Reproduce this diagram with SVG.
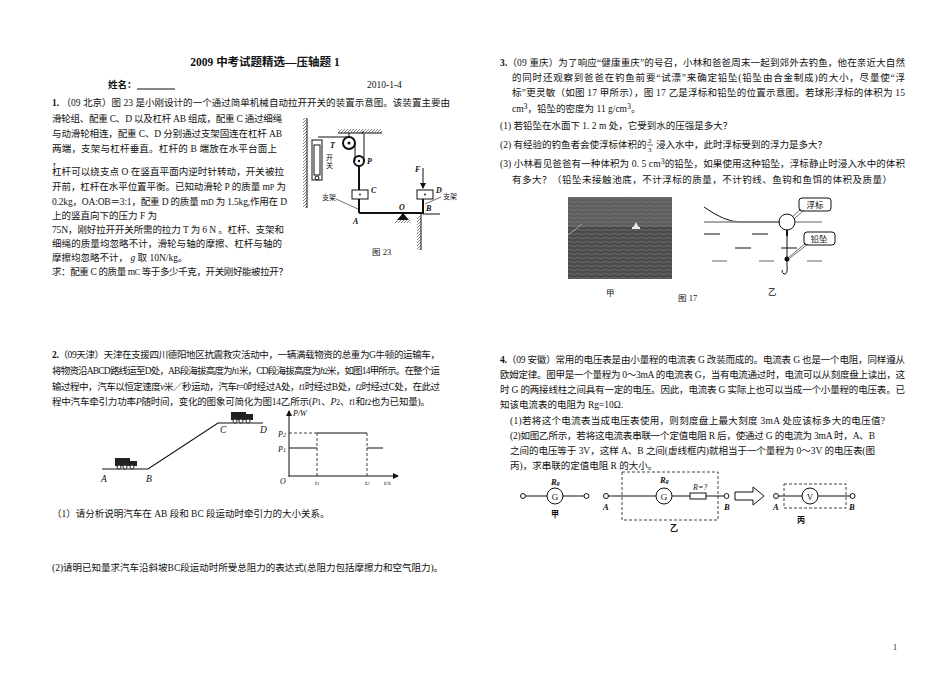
<svg xmlns="http://www.w3.org/2000/svg" width="950" height="694" viewBox="0 0 950 694">
<defs>
<style>
text{font-family:"Liberation Serif","Noto Sans CJK SC",serif;font-size:9.5px;fill:#111}
.b{font-weight:bold}
.i{font-style:italic}
.s{font-size:8px}
.ln{stroke:#111;stroke-width:1;fill:none}
.tk{stroke:#111;stroke-width:2;fill:none}
.ds{stroke:#111;stroke-width:0.8;stroke-dasharray:3 2;fill:none}
.gr{stroke:#888;stroke-width:1.3;fill:none}
</style>
<pattern id="h" width="3" height="3" patternUnits="userSpaceOnUse"><path d="M0,3 L3,0" stroke="#333" stroke-width="0.6"/></pattern>
<pattern id="water" width="9" height="4" patternUnits="userSpaceOnUse"><rect width="9" height="4" fill="#4a4a4a"/><path d="M0,2 Q2,1 4.5,2 T9,2" stroke="#7a7a7a" stroke-width="0.7" fill="none"/></pattern>
<marker id="ar" markerWidth="6" markerHeight="6" refX="5" refY="3" orient="auto"><path d="M0,0 L6,3 L0,6 z" fill="#111"/></marker>
</defs>
<rect width="950" height="694" fill="#fff"/>

<g id="header">
<text x="265" y="66" text-anchor="middle" class="b" style="font-size:11.5px">2009 中考试题精选—压轴题 1</text>
<text x="108" y="88" class="b">姓名：</text><line x1="137" y1="89" x2="175" y2="89" class="ln"/>
<text x="367" y="88">2010-1-4</text>
</g>

<g id="q1-text">
<text x="52" y="106" textLength="398"><tspan class="b">1.</tspan> （09 北京）图 23 是小刚设计的一个通过简单机械自动拉开开关的装置示意图。该装置主要由</text>
<text x="52" y="122" textLength="230">滑轮组、配重 C、D 以及杠杆 AB 组成，配重 C 通过细绳</text>
<text x="52" y="137" textLength="230">与动滑轮相连，配重 C、D 分别通过支架固连在杠杆 AB</text>
<text x="52" y="152" textLength="225">两端，支架与杠杆垂直。杠杆的 B 端放在水平台面上</text>
<text x="52" y="165">，</text>
<text x="52" y="175" textLength="232">杠杆可以绕支点 O 在竖直平面内逆时针转动，开关被拉</text>
<text x="52" y="190" textLength="234">开前，杠杆在水平位置平衡。已知动滑轮 P 的质量 m<tspan class="s">P</tspan> 为</text>
<text x="52" y="205" textLength="235">0.2kg，OA:OB＝3:1，配重 D 的质量 m<tspan class="s">D</tspan> 为 1.5kg,作用在 D</text>
<text x="52" y="219">上的竖直向下的压力 F 为</text>
<text x="52" y="233" textLength="232">75N，刚好拉开开关所需的拉力 T 为 6 N 。杠杆、支架和</text>
<text x="52" y="247" textLength="230">细绳的质量均忽略不计，滑轮与轴的摩擦、杠杆与轴的</text>
<text x="52" y="261">摩擦均忽略不计， <tspan class="i">g</tspan> 取 10N/kg。</text>
<text x="52" y="275" textLength="236">求：配重 C 的质量 m<tspan class="s">C</tspan> 等于多少千克，开关刚好能被拉开？</text>
</g>

<g id="fig23">
<line x1="307" y1="118" x2="307" y2="208" class="ln"/>
<rect x="303" y="118" width="4" height="90" fill="url(#h)"/>
<rect x="312" y="140" width="10" height="40" class="ln"/>
<rect x="314" y="145" width="6" height="30" class="ln"/>
<circle cx="317" cy="178" r="2" class="ln"/>
<text x="326" y="160" style="font-size:7px">开</text><text x="326" y="168" style="font-size:7px">关</text>
<line x1="338" y1="133" x2="382" y2="133" class="ln"/>
<rect x="338" y="129" width="44" height="4" fill="url(#h)"/>
<line x1="349" y1="133" x2="349" y2="137" class="ln"/>
<circle cx="349" cy="143" r="6" class="tk"/><circle cx="349" cy="143" r="1.5" fill="#111"/>
<line x1="318" y1="137" x2="349" y2="137" class="ln"/>
<text x="330" y="148" class="i b" style="font-size:8px">T</text>
<line x1="355" y1="143" x2="355" y2="161" class="ln"/>
<line x1="364" y1="134" x2="364" y2="161" class="ln"/>
<path d="M362,134 q0,-3 2,-2" class="ln"/>
<circle cx="359" cy="161" r="5" class="tk"/><circle cx="359" cy="161" r="1.2" fill="#111"/>
<text x="367" y="164" class="i b" style="font-size:8px">P</text>
<line x1="359" y1="166" x2="359" y2="190" class="tk"/>
<rect x="352" y="190" width="16" height="9" fill="#fff" class="ln"/><circle cx="360" cy="194.5" r="0.9" fill="#111"/>
<text x="371" y="193" class="i b" style="font-size:8px">C</text>
<line x1="359" y1="199" x2="359" y2="213" class="tk"/>
<line x1="359" y1="213" x2="424" y2="213" class="tk"/>
<rect x="417" y="190" width="16" height="9" fill="#fff" class="ln"/><circle cx="425" cy="194.5" r="0.9" fill="#111"/>
<text x="436" y="193" class="i b" style="font-size:8px">D</text>
<line x1="423" y1="199" x2="423" y2="213" class="tk"/>
<line x1="423" y1="168" x2="423" y2="188" class="ln" marker-end="url(#ar)"/>
<text x="415" y="172" class="i b" style="font-size:8px">F</text>
<path d="M397,220 L403,213 L409,220 Z" fill="#111"/>
<rect x="395" y="220" width="16" height="3" fill="url(#h)"/>
<text x="399" y="210" class="i b" style="font-size:8px">O</text>
<line x1="423" y1="214" x2="440" y2="214" class="ln"/>
<line x1="421" y1="214" x2="421" y2="250" class="ln"/>
<rect x="417" y="216" width="4" height="34" fill="url(#h)"/>
<text x="353" y="224" class="i b" style="font-size:8px">A</text>
<text x="426" y="211" class="i b" style="font-size:8px">B</text>
<text x="322" y="200" style="font-size:7px">支架</text>
<line x1="336" y1="199" x2="358" y2="209" class="ln" style="stroke-width:0.6"/>
<text x="443" y="199" style="font-size:7px">支架</text>
<line x1="441" y1="197" x2="425" y2="204" class="ln" style="stroke-width:0.6"/>
<text x="372" y="255" style="font-size:8.5px">图 23</text>
</g>

<g id="q2-text">
<text x="52" y="358" textLength="388"><tspan class="b">2.</tspan>（09天津）天津在支援四川德阳地区抗震救灾活动中，一辆满载物资的总重为G牛顿的运输车，</text>
<text x="52" y="374" textLength="388">将物资沿ABCD路线运至D处，AB段海拔高度为<tspan class="i">h</tspan><tspan class="s">1</tspan>米，CD段海拔高度为<tspan class="i">h</tspan><tspan class="s">2</tspan>米，如图14甲所示。在整个运</text>
<text x="52" y="390" textLength="388">输过程中，汽车以恒定速度<tspan class="i">v</tspan>米／秒运动，汽车<tspan class="i">t</tspan>=0时经过A处，<tspan class="i">t</tspan><tspan class="s">1</tspan>时经过B处，<tspan class="i">t</tspan><tspan class="s">2</tspan>时经过C处，在此过</text>
<text x="52" y="405" textLength="378">程中汽车牵引力功率<tspan class="i">P</tspan>随时间，变化的图象可简化为图14乙所示(<tspan class="i">P</tspan><tspan class="s">1</tspan>、<tspan class="i">P</tspan><tspan class="s">2</tspan>、<tspan class="i">t</tspan><tspan class="s">1</tspan>和<tspan class="i">t</tspan><tspan class="s">2</tspan>也为已知量)。</text>
<text x="52" y="517">（1）请分析说明汽车在 AB 段和 BC 段运动时牵引力的大小关系。</text>
<text x="52" y="571">(2)请明已知量求汽车沿斜坡BC段运动时所受总阻力的表达式(总阻力包括摩擦力和空气阻力)。</text>
</g>

<g id="fig14">
<polyline points="102,469 148,469 218,423 263,423" class="ln" style="stroke-width:1.2"/>
<g><rect x="115" y="458" width="15" height="8" fill="#222"/><rect x="130" y="461" width="7" height="5" fill="#222"/><circle cx="119" cy="467" r="2" fill="#fff" stroke="#222"/><circle cx="125" cy="467" r="2" fill="#fff" stroke="#222"/><circle cx="132" cy="467" r="2" fill="#fff" stroke="#222"/></g>
<g><rect x="231" y="412" width="15" height="8" fill="#222"/><rect x="246" y="414" width="7" height="6" fill="#222"/><circle cx="235" cy="421" r="2" fill="#fff" stroke="#222"/><circle cx="241" cy="421" r="2" fill="#fff" stroke="#222"/><circle cx="248" cy="421" r="2" fill="#fff" stroke="#222"/></g>
<text x="101" y="482" class="i">A</text><text x="146" y="482" class="i">B</text><text x="220" y="433" class="i">C</text><text x="260" y="433" class="i">D</text>
<line x1="289" y1="477" x2="289" y2="411" class="ln" marker-end="url(#ar)"/>
<line x1="289" y1="476" x2="398" y2="476" class="ln" marker-end="url(#ar)"/>
<text x="293" y="416" class="i" style="font-size:8px">P/W</text>
<line x1="289" y1="433" x2="317" y2="433" class="ds"/>
<line x1="289" y1="448" x2="317" y2="448" class="ln"/>
<line x1="317" y1="433" x2="317" y2="476" class="ds"/>
<line x1="317" y1="433" x2="367" y2="433" class="ln"/>
<line x1="367" y1="433" x2="367" y2="476" class="ds"/>
<line x1="367" y1="448" x2="383" y2="448" class="ln"/>
<text x="278" y="437" class="i" style="font-size:8px">P<tspan style="font-size:6px">2</tspan></text>
<text x="278" y="452" class="i" style="font-size:8px">P<tspan style="font-size:6px">1</tspan></text>
<text x="280" y="484" class="i" style="font-size:8px">O</text>
<text x="315" y="485" class="i" style="font-size:7px">t<tspan style="font-size:5px">1</tspan></text>
<text x="365" y="485" class="i" style="font-size:7px">t<tspan style="font-size:5px">2</tspan></text>
<text x="384" y="485" class="i" style="font-size:7px">t/s</text>
</g>

<g id="q3-text">
<text x="500" y="66" textLength="405"><tspan class="b">3.</tspan>（09 重庆）为了响应“健康重庆”的号召，小林和爸爸周末一起到郊外去钓鱼，他在亲近大自然</text>
<text x="512" y="81" textLength="393">的同时还观察到爸爸在钓鱼前要“试漂”来确定铅坠(铅坠由合金制成)的大小，尽量使“浮</text>
<text x="512" y="96" textLength="393">标”更灵敏（如图 17 甲所示），图 17 乙是浮标和铅坠的位置示意图。若球形浮标的体积为 15</text>
<text x="512" y="112">cm<tspan class="s" dy="-3">3</tspan><tspan dy="3">，铅坠的密度为 11 g/cm</tspan><tspan class="s" dy="-3">3</tspan><tspan dy="3">。</tspan></text>
<text x="500" y="129">(1) 若铅坠在水面下 1. 2 m 处，它受到水的压强是多大？</text>
<text x="500" y="148">(2) 有经验的钓鱼者会使浮标体积的</text>
<text x="648" y="143" style="font-size:7px">2</text><line x1="647" y1="145" x2="653" y2="145" class="ln" style="stroke-width:0.6"/><text x="648" y="152" style="font-size:7px">3</text>
<text x="656" y="148">浸入水中，此时浮标受到的浮力是多大？</text>
<text x="500" y="167" textLength="405">(3) 小林看见爸爸有一种体积为 0. 5 cm<tspan class="s" dy="-3">3</tspan><tspan dy="3">的铅坠，如果使用这种铅坠，浮标静止时浸入水中的体积</tspan></text>
<text x="512" y="183" textLength="380">有多大？（铅坠未接触池底，不计浮标的质量，不计钓线、鱼钩和鱼饵的体积及质量）</text>
</g>

<g id="fig17">
<rect x="568" y="197" width="104" height="82" fill="url(#water)"/>
<rect x="568" y="197" width="104" height="30" fill="#777" opacity="0.45"/>
<line x1="568" y1="235" x2="582" y2="224" stroke="#ccc" stroke-width="0.7"/>
<path d="M633,228 L636,222 L639,228 Z" fill="#eee"/>
<rect x="632" y="227" width="8" height="2" fill="#eee"/>
<path d="M704,207 Q725,222 740,222 L780,222" class="ln"/>
<line x1="704" y1="222" x2="779" y2="222" class="gr"/>
<line x1="795" y1="222" x2="822" y2="222" class="gr"/>
<circle cx="787" cy="222" r="8" fill="#fff" class="ln"/>
<line x1="787" y1="230" x2="787" y2="236" class="tk"/>
<line x1="787" y1="236" x2="787" y2="265" class="ln"/>
<path d="M787,265 Q788,275 784,274 Q782,273 782,270" class="ln"/>
<circle cx="787" cy="259" r="2.5" fill="#111"/>
<line x1="704" y1="234" x2="720" y2="234" class="ln"/><line x1="752" y1="234" x2="768" y2="234" class="ln"/>
<line x1="735" y1="248" x2="751" y2="248" class="ln"/><line x1="781" y1="248" x2="797" y2="248" class="ln"/>
<line x1="712" y1="261" x2="727" y2="261" class="gr"/><line x1="759" y1="261" x2="774" y2="261" class="gr"/><line x1="807" y1="261" x2="822" y2="261" class="gr"/>
<rect x="799" y="198" width="32" height="13" rx="3" fill="#fff" class="ln"/>
<text x="815" y="208" text-anchor="middle" style="font-size:8.5px">浮标</text>
<path d="M801,209 L792,217 M804,210 L794,219" class="ln" style="stroke-width:0.6"/>
<rect x="804" y="232" width="31" height="13" rx="3" fill="#fff" class="ln"/>
<text x="819" y="242" text-anchor="middle" style="font-size:8.5px">铅坠</text>
<path d="M806,243 L789,257 M808,244 L790,258" class="ln" style="stroke-width:0.6"/>
<text x="606" y="296" style="font-size:8.5px">甲</text>
<text x="678" y="301" style="font-size:8.5px">图 17</text>
<text x="768" y="295" style="font-size:8.5px">乙</text>
</g>

<g id="q4-text">
<text x="500" y="363" textLength="405"><tspan class="b">4.</tspan>（09 安徽）常用的电压表是由小量程的电流表 G 改装而成的。电流表 G 也是一个电阻，同样遵从</text>
<text x="500" y="378" textLength="405">欧姆定律。图甲是一个量程为 0～3mA 的电流表 G，当有电流通过时，电流可以从刻度盘上读出，这</text>
<text x="500" y="393" textLength="405">时 G 的两接线柱之间具有一定的电压。因此，电流表 G 实际上也可以当成一个小量程的电压表。已</text>
<text x="500" y="408">知该电流表的电阻为 Rg=10Ω.</text>
<text x="510" y="424" textLength="375">(1)若将这个电流表当成电压表使用，则刻度盘上最大刻度 3mA 处应该标多大的电压值?</text>
<text x="510" y="439" textLength="365">(2)如图乙所示，若将这电流表串联一个定值电阻 R 后，使通过 G 的电流为 3mA 时，A、B</text>
<text x="510" y="454" textLength="365">之间的电压等于 3V，这样 A、B 之间(虚线框内)就相当于一个量程为 0～3V 的电压表(图</text>
<text x="510" y="469">丙)，求串联的定值电阻 R 的大小。</text>
</g>

<g id="circuits">
<circle cx="523" cy="496" r="2.5" fill="#fff" class="ln"/><line x1="525.5" y1="496" x2="547" y2="496" class="ln"/>
<circle cx="555" cy="496" r="8" fill="#fff" class="ln"/><text x="555" y="499.5" text-anchor="middle" style="font-size:9px">G</text>
<line x1="563" y1="496" x2="584" y2="496" class="ln"/><circle cx="586.5" cy="496" r="2.5" fill="#fff" class="ln"/>
<text x="551" y="485" class="i b" style="font-size:8.5px">R<tspan style="font-size:6px">g</tspan></text>
<text x="551" y="517" class="b" style="font-size:8px">甲</text>
<rect x="622" y="472" width="96" height="48" class="ds"/>
<circle cx="606" cy="496" r="2.5" fill="#fff" class="ln"/><line x1="608.5" y1="496" x2="656" y2="496" class="ln"/>
<circle cx="664" cy="496" r="8" fill="#fff" class="ln"/><text x="664" y="499.5" text-anchor="middle" style="font-size:9px">G</text>
<line x1="672" y1="496" x2="690" y2="496" class="ln"/>
<rect x="690" y="493" width="16" height="6" fill="#fff" class="ln"/>
<line x1="706" y1="496" x2="724" y2="496" class="ln"/><circle cx="726.5" cy="496" r="2.5" fill="#fff" class="ln"/>
<text x="660" y="483" class="i b" style="font-size:8.5px">R<tspan style="font-size:6px">g</tspan></text>
<text x="693" y="490" class="i" style="font-size:8px">R=?</text>
<text x="603" y="510" class="i b" style="font-size:8.5px">A</text>
<text x="724" y="510" class="i b" style="font-size:8.5px">B</text>
<text x="670" y="531" class="b" style="font-size:8px">乙</text>
<path d="M735,492 L753,492 L753,487 L764,496 L753,505 L753,500 L735,500 Z" fill="#fff" class="ln"/>
<rect x="784" y="484" width="62" height="24" class="ds"/>
<circle cx="776" cy="496" r="2.5" fill="#fff" class="ln"/>
<line x1="778.5" y1="496" x2="802" y2="496" class="ln"/>
<circle cx="810" cy="496" r="8" fill="#fff" class="ln"/><text x="810" y="499.5" text-anchor="middle" style="font-size:9px">V</text>
<line x1="818" y1="496" x2="850" y2="496" class="ln"/>
<circle cx="852.5" cy="496" r="2.5" fill="#fff" class="ln"/>
<text x="773" y="510" class="i b" style="font-size:8.5px">A</text>
<text x="849" y="510" class="i b" style="font-size:8.5px">B</text>
<text x="797" y="523" class="b" style="font-size:8px">丙</text>
</g>

<text x="893" y="650" style="font-size:8px">1</text>
</svg>
